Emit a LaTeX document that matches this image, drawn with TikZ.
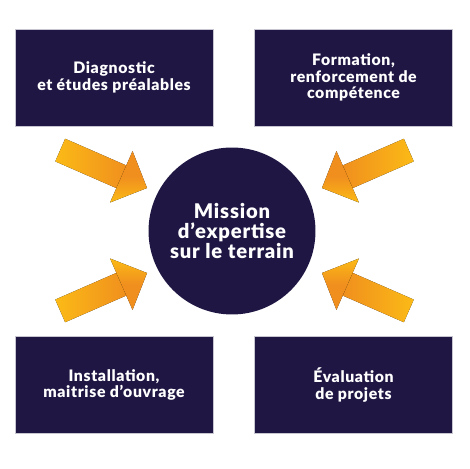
\documentclass[tikz,border=0pt]{standalone}
\usepackage{fontspec}
\setmainfont{Lato}[BoldFont={Lato Black}, BoldFeatures={LetterSpace=4}]
\usepackage{tikz}

\definecolor{navy}{HTML}{1F1643}
\definecolor{sunyellow}{HTML}{FBBA16}
\definecolor{sunorange}{HTML}{F08F1E}

\tikzset{
  themebox/.style={fill=navy, draw=navy!25, line width=0.3pt, minimum width=3.96cm,
    minimum height=1.94cm, text=white, align=center,
    font=\fontsize{9}{9.3}\selectfont\bfseries},
  hub/.style={circle, fill=navy, minimum size=3.34cm, inner sep=0pt, text=white,
    align=center, font=\fontsize{11.5}{11.6}\selectfont\bfseries}
}

\begin{document}
\begin{tikzpicture}[x=0.02cm, y=0.02cm]
\useasboundingbox (0,0) rectangle (469,469);

% Central mission
\node[hub] (mission) at (232,238) {Mission\\d’expertise\\sur le terrain};

% Four themes
\node[themebox] (diag) at (114,391.5) {Diagnostic\\et études préalables};
\node[themebox] (form) at (353.5,391.5) {Formation,\\renforcement de\\compétence};
\node[themebox] (inst) at (114,84) {Installation,\\maitrise d’ouvrage};
\node[themebox] (eval) at (353.5,84) {Évaluation\\de projets};

% Arrow from top left
\begin{scope}[shift={(147,281)}, rotate=-23.6]
\fill[left color=sunyellow, right color=sunorange] (-94.7,-12.35) -- (-94.7,12.35) -- (-27,12.35) -- (-27,-12.35) -- cycle;
\fill[top color=sunorange, bottom color=sunyellow, middle color=sunorange] (0,0) -- (-28,28) -- (-28,-28) -- cycle;
\end{scope}

% Arrow from top right
\begin{scope}[shift={(322,281)}, rotate=203.6]
\fill[left color=sunorange, right color=sunyellow] (-94.7,-12.35) -- (-94.7,12.35) -- (-27,12.35) -- (-27,-12.35) -- cycle;
\fill[top color=sunorange, bottom color=sunyellow, middle color=sunorange] (0,0) -- (-28,28) -- (-28,-28) -- cycle;
\end{scope}

% Arrow from bottom left
\begin{scope}[shift={(147,196)}, rotate=23.6]
\fill[left color=sunyellow, right color=sunorange] (-94.7,-12.35) -- (-94.7,12.35) -- (-27,12.35) -- (-27,-12.35) -- cycle;
\fill[top color=sunyellow, bottom color=sunorange, middle color=sunorange] (0,0) -- (-28,28) -- (-28,-28) -- cycle;
\end{scope}

% Arrow from bottom right
\begin{scope}[shift={(322,196)}, rotate=156.4]
\fill[left color=sunorange, right color=sunyellow] (-94.7,-12.35) -- (-94.7,12.35) -- (-27,12.35) -- (-27,-12.35) -- cycle;
\fill[top color=sunyellow, bottom color=sunorange, middle color=sunorange] (0,0) -- (-28,28) -- (-28,-28) -- cycle;
\end{scope}

\end{tikzpicture}
\end{document}
